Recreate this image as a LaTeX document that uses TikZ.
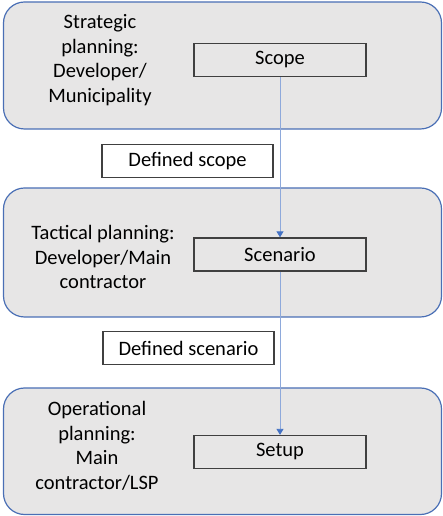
\documentclass[tikz,border=0pt]{standalone}
\usepackage{fontspec}
\setmainfont{Carlito}
\usetikzlibrary{arrows.meta}
\definecolor{panelfill}{HTML}{E7E6E6}
\definecolor{panelline}{HTML}{4A6FB5}
\definecolor{arrline}{HTML}{8EA9DB}
\definecolor{arrhead}{HTML}{4472C4}
\definecolor{boxline}{HTML}{404040}
\tikzset{
  panel/.style={draw=panelline, fill=panelfill, line width=1.2pt, rounded corners=21pt},
  stepbox/.style={draw=boxline, fill=panelfill, line width=1.3pt, minimum width=172pt, minimum height=33pt, inner sep=0pt, font=\fontsize{20.5}{24.5}\selectfont},
  labelbox/.style={draw=boxline, fill=white, line width=1.1pt, minimum width=171pt, minimum height=33pt, inner sep=0pt, font=\fontsize{20.5}{24.5}\selectfont},
  role/.style={align=center, font=\fontsize{20.5}{24.5}\selectfont, inner sep=0pt},
  flow/.style={draw=arrline, line width=0.9pt, -{Triangle[length=6pt,width=7pt,color=arrhead]}}
}
\begin{document}
\begin{tikzpicture}[x=1pt,y=1pt]
\useasboundingbox (0,0) rectangle (443,516);
\draw[panel] (3.5,387) rectangle (441.5,514);
\draw[panel] (3.5,199) rectangle (441.5,328);
\draw[panel] (3.5,1.5) rectangle (441.5,128);
\node[role] (r1) at (100,456) {Strategic\\planning:\\Developer/\\Municipality};
\node[role] (r2) at (103,259) {Tactical planning:\\Developer/Main\\contractor};
\node[role] (r3) at (97,70) {Operational\\planning:\\Main\\contractor/LSP};
\node[stepbox] (scope) at (280,456) {Scope};
\node[stepbox] (scenario) at (280,261.5) {Scenario};
\node[stepbox] (setup) at (280,64) {Setup};
\node[labelbox] (dscope) at (187.5,355) {Defined scope};
\node[labelbox] (dscenario) at (188.5,168) {Defined scenario};
\draw[flow] (scope.south) -- (scenario.north);
\draw[flow] (scenario.south) -- (setup.north);
\end{tikzpicture}
\end{document}
